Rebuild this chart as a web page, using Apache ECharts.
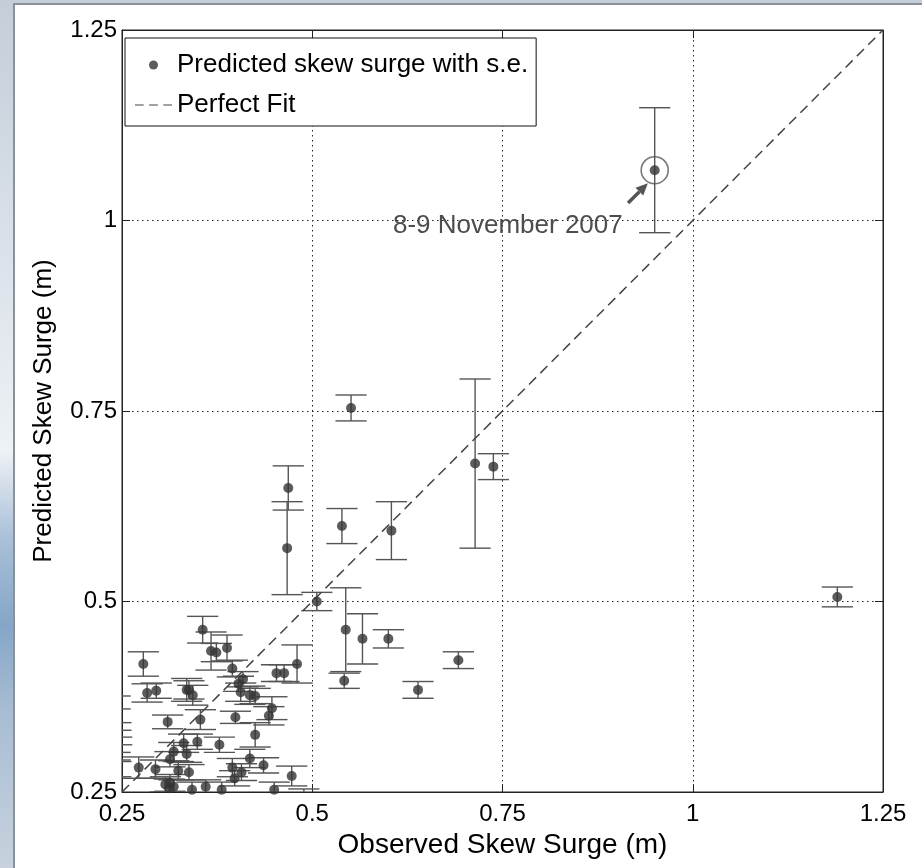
<!DOCTYPE html>
<html>
<head>
<meta charset="utf-8">
<script src="https://cdn.jsdelivr.net/npm/echarts@6/dist/echarts.min.js"></script>
<style>
  html, body { margin: 0; padding: 0; }
  body {
    width: 922px; height: 868px; overflow: hidden;
    background: linear-gradient(to bottom,
      #c4ced9 0%, #d3dbe4 20%, #e4e9ef 40%, #eef1f5 52%,
      #a9c0d8 62%, #85a6c8 72%, #a8bdd3 82%, #c7d2de 100%);
  }
  #chart { width: 922px; height: 868px; }
</style>
</head>
<body>
<div id="chart"></div>
<script>
// Observed vs predicted skew surge (m) with standard errors of the prediction
const observed = [
  0.950, 1.190, 0.551, 0.4685, 0.467, 0.539, 0.604, 0.714, 0.738, 0.506,
  0.544, 0.566, 0.600, 0.542, 0.692, 0.639, 0.480, 0.453, 0.463, 0.356,
  0.278, 0.367, 0.374, 0.388, 0.395, 0.409, 0.403, 0.283, 0.295, 0.335,
  0.338, 0.343, 0.406, 0.418, 0.425, 0.447, 0.443, 0.399, 0.353, 0.310,
  0.425, 0.331, 0.349, 0.378, 0.318, 0.335, 0.313, 0.418, 0.272, 0.294,
  0.324, 0.338, 0.395, 0.407, 0.436, 0.398, 0.473, 0.307, 0.313, 0.318,
  0.312, 0.342, 0.360, 0.381, 0.450, 0.241, 0.242, 0.243, 0.241, 0.242,
  0.489
];
const predicted = [
  1.066, 0.506, 0.754, 0.649, 0.570, 0.599, 0.593, 0.681, 0.677, 0.500,
  0.463, 0.451, 0.451, 0.396, 0.423, 0.384, 0.418, 0.406, 0.406, 0.463,
  0.418, 0.435, 0.433, 0.439, 0.412, 0.398, 0.392, 0.380, 0.383, 0.384,
  0.384, 0.377, 0.381, 0.377, 0.376, 0.360, 0.350, 0.348, 0.345, 0.342,
  0.325, 0.314, 0.316, 0.312, 0.303, 0.300, 0.293, 0.294, 0.282, 0.280,
  0.278, 0.276, 0.282, 0.276, 0.285, 0.268, 0.271, 0.260, 0.262, 0.257,
  0.255, 0.253, 0.257, 0.253, 0.253, 0.3675, 0.336, 0.317, 0.297, 0.280,
  0.241
];
const stdErr = [
  0.082, 0.013, 0.017, 0.029, 0.061, 0.023, 0.038, 0.111, 0.017, 0.012,
  0.055, 0.033, 0.012, 0.010, 0.011, 0.011, 0.025, 0.011, 0.011, 0.0175,
  0.016, 0.025, 0.012, 0.017, 0.011, 0.010, 0.010, 0.012, 0.010, 0.015,
  0.012, 0.013, 0.012, 0.012, 0.010, 0.015, 0.012, 0.008, 0.013, 0.009,
  0.016, 0.012, 0.010, 0.010, 0.012, 0.011, 0.010, 0.012, 0.014, 0.012,
  0.012, 0.010, 0.012, 0.011, 0.010, 0.010, 0.013, 0.010, 0.011, 0.009,
  0.012, 0.010, 0.009, 0.010, 0.010, 0.0085, 0.005, 0.005, 0.005, 0.010,
  0.013
];
// the 8-9 November 2007 event is the first entry
const eventIndex = 0;
const eventLabel = '8-9 November 2007';
const eventLabelPos = [0.757, 0.993];
// arrow from the label towards the circled event: tail x, tail y, head x, head y
const eventArrow = [0.915, 1.023, 0.941, 1.049];

// 1:1 reference line
const fitX = [0.25, 1.25];
const fitY = [0.25, 1.25];

// axes
const axisMin = 0.25, axisMax = 1.25, axisStep = 0.25;
const xTitle = 'Observed Skew Surge (m)';
const yTitle = 'Predicted Skew Surge (m)';
const seriesName = 'Predicted skew surge with s.e.';
const fitName = 'Perfect Fit';

const capHalf = 0.0205; // half width of error-bar caps, in x units
const font = "'Liberation Sans', Arial, Helvetica, sans-serif";

const points = observed.map((x, i) => [x, predicted[i]]);
const errRows = observed.map((x, i) => [x, predicted[i], stdErr[i]]);

const chart = echarts.init(document.getElementById('chart'), null, { renderer: 'canvas' });

const baseAxis = {
  type: 'value', min: axisMin, max: axisMax, interval: axisStep,
  axisLine: { show: true, onZero: false, lineStyle: { color: '#222', width: 1 } },
  axisTick: { show: true, inside: true, length: 8, lineStyle: { color: '#222' } },
  splitLine: { show: false }
};

chart.setOption({
  animation: false,
  backgroundColor: 'transparent',
  textStyle: { fontFamily: font },
  graphic: [{
    type: 'rect', silent: true, z: -10,
    shape: { x: 14, y: 4, width: 912, height: 868 },
    style: { fill: '#ffffff', stroke: '#8a9199', lineWidth: 2 }
  }],
  grid: { left: 122, right: 39, top: 30, bottom: 76, show: true,
          backgroundColor: '#ffffff', borderColor: '#222', borderWidth: 1 },
  legend: {
    left: 125, top: 38, orient: 'vertical',
    padding: [14, 8, 8, 10],
    itemWidth: 37, itemHeight: 9, itemGap: 14,
    backgroundColor: '#ffffff', borderColor: '#111', borderWidth: 1,
    textStyle: { fontSize: 26, color: '#000', fontFamily: font },
    data: [
      { name: seriesName, icon: 'circle' },
      { name: fitName, icon: 'path://M0,0h8v1h-8z M13,0h8v1h-8z M26,0h8v1h-8z' }
    ]
  },
  xAxis: [
    Object.assign({}, baseAxis, {
      position: 'bottom',
      name: xTitle, nameLocation: 'middle', nameGap: 38,
      nameTextStyle: { fontSize: 28, color: '#000', fontFamily: font },
      axisLabel: { fontSize: 24, color: '#000', margin: 10, fontFamily: font },
      splitLine: { show: true, lineStyle: { type: [1.5, 3.5], color: '#222', width: 1 } }
    }),
    Object.assign({}, baseAxis, { position: 'top', axisLabel: { show: false } })
  ],
  yAxis: [
    Object.assign({}, baseAxis, {
      position: 'left',
      name: yTitle, nameLocation: 'middle', nameGap: 65,
      nameTextStyle: { fontSize: 26, color: '#000', fontFamily: font },
      axisLabel: { fontSize: 24, color: '#000', margin: 5, fontFamily: font },
      splitLine: { show: true, lineStyle: { type: [1.5, 3.5], color: '#222', width: 1 } }
    }),
    Object.assign({}, baseAxis, { position: 'right', axisLabel: { show: false } })
  ],
  series: [
    {
      type: 'custom', name: 'errorbars', clip: true, z: 3,
      encode: { x: 0, y: 1 },
      data: errRows,
      renderItem: function (params, api) {
        const x = api.value(0), y = api.value(1), e = api.value(2);
        const top = api.coord([x, y + e]);
        const bot = api.coord([x, y - e]);
        const tl = api.coord([x - capHalf, y + e]);
        const tr = api.coord([x + capHalf, y + e]);
        const bl = api.coord([x - capHalf, y - e]);
        const br = api.coord([x + capHalf, y - e]);
        const style = { stroke: '#555', lineWidth: 1.4, fill: null };
        return {
          type: 'group',
          children: [
            { type: 'line', shape: { x1: top[0], y1: top[1], x2: bot[0], y2: bot[1] }, style: style },
            { type: 'line', shape: { x1: tl[0], y1: tl[1], x2: tr[0], y2: tr[1] }, style: style },
            { type: 'line', shape: { x1: bl[0], y1: bl[1], x2: br[0], y2: br[1] }, style: style }
          ]
        };
      }
    },
    {
      type: 'line', name: fitName, z: 4,
      data: fitX.map((x, i) => [x, fitY[i]]),
      symbol: 'none', color: '#444',
      itemStyle: { color: '#444' },
      lineStyle: { color: '#444', width: 1.5, type: [10, 6] }
    },
    {
      type: 'scatter', name: seriesName, z: 5, clip: true,
      data: points,
      symbol: 'circle', symbolSize: 10,
      itemStyle: { color: '#333' }
    },
    {
      type: 'scatter', name: 'event', z: 6,
      data: [points[eventIndex]],
      symbol: 'circle', symbolSize: 27,
      itemStyle: { color: 'rgba(0,0,0,0)', borderColor: '#555', borderWidth: 1.6 }
    },
    {
      type: 'custom', name: 'event arrow', z: 6, clip: false,
      encode: { x: [0, 2], y: [1, 3] },
      data: [eventArrow],
      renderItem: function (params, api) {
        const a = api.coord([api.value(0), api.value(1)]);
        const b = api.coord([api.value(2), api.value(3)]);
        const dx = b[0] - a[0], dy = b[1] - a[1];
        const len = Math.sqrt(dx * dx + dy * dy);
        const ux = dx / len, uy = dy / len;
        const headLen = 12, headHalf = 5.5;
        const bx = b[0] - ux * headLen, by = b[1] - uy * headLen;
        return {
          type: 'group',
          children: [
            { type: 'line', shape: { x1: a[0], y1: a[1], x2: bx, y2: by },
              style: { stroke: '#555', lineWidth: 3.5 } },
            { type: 'polygon',
              shape: { points: [[b[0], b[1]],
                                [bx - uy * headHalf, by + ux * headHalf],
                                [bx + uy * headHalf, by - ux * headHalf]] },
              style: { fill: '#555' } }
          ]
        };
      }
    },
    {
      type: 'custom', name: 'event label', z: 6, clip: false,
      encode: { x: 0, y: 1 },
      data: [eventLabelPos],
      renderItem: function (params, api) {
        const p = api.coord([api.value(0), api.value(1)]);
        return {
          type: 'text', x: p[0], y: p[1],
          style: {
            text: eventLabel, fill: '#4d4d4d',
            font: '26px ' + font, align: 'center', verticalAlign: 'middle'
          }
        };
      }
    }
  ]
});
</script>
</body>
</html>
